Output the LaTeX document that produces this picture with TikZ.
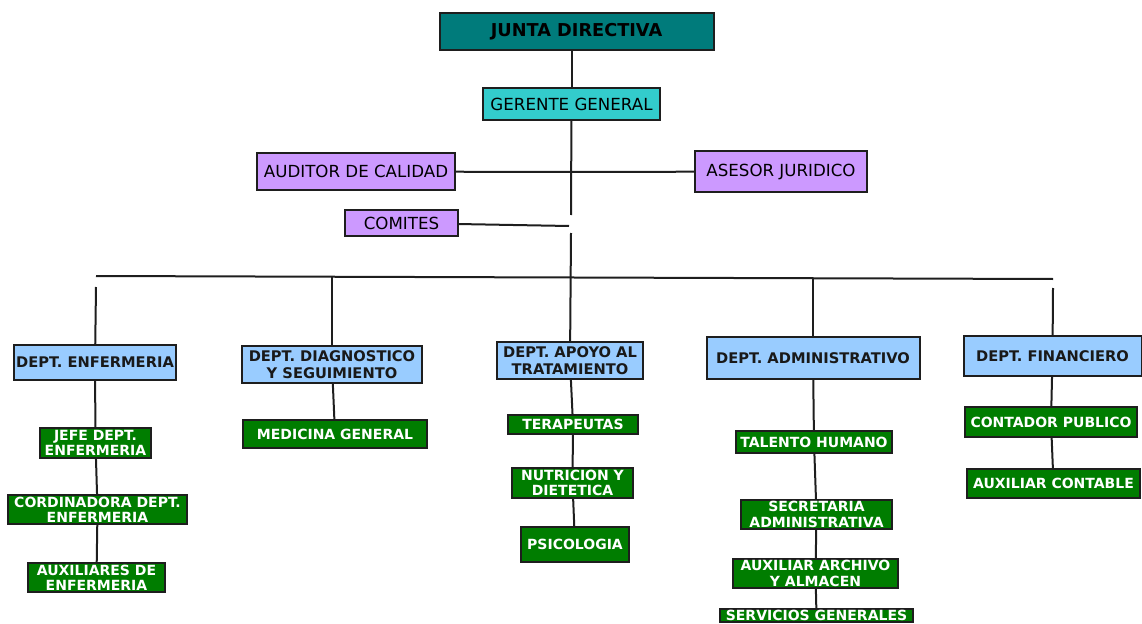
\documentclass[tikz,border=0pt]{standalone}
\usepackage{fontspec}
\setmainfont{DejaVu Sans}
\definecolor{junta}{RGB}{0,123,123}
\definecolor{gerente}{RGB}{51,204,204}
\definecolor{lila}{RGB}{204,153,255}
\definecolor{celeste}{RGB}{153,204,255}
\definecolor{verde}{RGB}{0,125,0}
\definecolor{borde}{RGB}{30,30,30}
\begin{document}
\begin{tikzpicture}[x=0.75pt,y=-0.75pt,
    caja/.style={draw=borde,line width=1.5pt,inner sep=0pt,align=center},
    tam/.style 2 args={minimum width=#1*0.75pt,minimum height=#2*0.75pt},
    dir/.style={caja,fill=junta,font=\fontsize{13.3}{15}\selectfont\bfseries},
    ger/.style={caja,fill=gerente,font=\fontsize{12.5}{14}\selectfont},
    staff/.style={caja,fill=lila,font=\fontsize{12.5}{14}\selectfont},
    dept/.style={caja,fill=celeste,text=black!90,font=\fontsize{11}{12.5}\selectfont\bfseries},
    cargo/.style={caja,fill=verde,text=white,font=\fontsize{10.5}{11.5}\selectfont\bfseries},
    linea/.style={draw=borde,line width=1.5pt}]
    \useasboundingbox (0,0) rectangle (1142,624);
    % direccion
    \node[dir,tam={274}{37}] (junta) at (576.5,31.5) {JUNTA DIRECTIVA};
    \node[ger,tam={177}{32}] (gerente) at (571.5,104) {GERENTE GENERAL};
    \node[staff,tam={198}{37}] (auditor) at (356,171.5) {AUDITOR DE CALIDAD};
    \node[staff,tam={172}{41}] (asesor) at (781,171.5) {ASESOR JURIDICO};
    \node[staff,tam={113}{26}] (comites) at (401.5,223) {COMITES};
    % departamentos
    \node[dept,tam={162}{35}] (enf) at (95,362.5) {DEPT. ENFERMERIA};
    \node[dept,tam={180}{37}] (diag) at (332,364.5) {DEPT. DIAGNOSTICO\\Y SEGUIMIENTO};
    \node[dept,tam={146}{37}] (apoyo) at (570,360.5) {DEPT. APOYO AL\\TRATAMIENTO};
    \node[dept,tam={213}{42}] (admin) at (813,358) {DEPT. ADMINISTRATIVO};
    \node[dept,tam={178}{40}] (fin) at (1052.5,356) {DEPT. FINANCIERO};
    % cargos
    \node[cargo,tam={111}{30}] (jefe) at (95.5,443) {JEFE DEPT.\\ENFERMERIA};
    \node[cargo,tam={179}{29}] (cord) at (97.5,509.5) {CORDINADORA DEPT.\\ENFERMERIA};
    \node[cargo,tam={137}{29}] (auxenf) at (96.5,577.5) {AUXILIARES DE\\ENFERMERIA};
    \node[cargo,tam={184}{28}] (medgen) at (335,434) {MEDICINA GENERAL};
    \node[cargo,tam={130}{19}] (terap) at (573,424.5) {TERAPEUTAS};
    \node[cargo,tam={121}{30}] (nutri) at (572.5,483) {NUTRICION Y\\DIETETICA};
    \node[cargo,tam={108}{35}] (psico) at (575,544.5) {PSICOLOGIA};
    \node[cargo,tam={156}{22}] (talento) at (814,442) {TALENTO HUMANO};
    \node[cargo,tam={151}{29}] (secre) at (816.5,514.5) {SECRETARIA\\ADMINISTRATIVA};
    \node[cargo,tam={165}{29}] (auxarch) at (815.5,573.5) {AUXILIAR ARCHIVO\\Y ALMACEN};
    \node[cargo,tam={193}{0},anchor=north,inner ysep=1pt,text depth=0pt] (servgen) at (816.5,608) {SERVICIOS GENERALES};
    \node[cargo,tam={172}{30}] (contador) at (1051,422) {CONTADOR PUBLICO};
    \node[cargo,tam={173}{29}] (auxcont) at (1053.5,483.5) {AUXILIAR CONTABLE};
    % tronco
    \coordinate (staffpt) at (571,172);
    \coordinate (corte) at (571,215);
    \coordinate (comitept) at (569,226);
    \coordinate (sigue) at (571,233);
    \coordinate (busizq) at (96,276);
    \coordinate (busder) at (1053,279);
    \coordinate (bajaizq) at (96,287);
    \coordinate (bajader) at (1053,288);
    \draw[linea] (junta.south -| gerente) -- (gerente);
    \draw[linea] (gerente) -- (corte);
    \draw[linea] (auditor) -- (staffpt) -- (asesor);
    \draw[linea] (comites) -- (comitept);
    \draw[linea] (sigue) -- (apoyo);
    \draw[linea] (busizq) -- (busder);
    \draw[linea] (bajaizq) -- (enf);
    \draw[linea] (bajader) -- (fin);
    \draw[linea] (diag |- 0,277) -- (diag);
    \draw[linea] (admin |- 0,278) -- (admin);
    % columnas
    \draw[linea] (enf) -- (jefe) -- (cord) -- (auxenf);
    \draw[linea] (diag) -- (medgen);
    \draw[linea] (apoyo) -- (terap) -- (nutri) -- (psico);
    \draw[linea] (admin) -- (talento) -- (secre) -- (auxarch) -- (servgen);
    \draw[linea] (fin) -- (contador) -- (auxcont);
\end{tikzpicture}
\end{document}
